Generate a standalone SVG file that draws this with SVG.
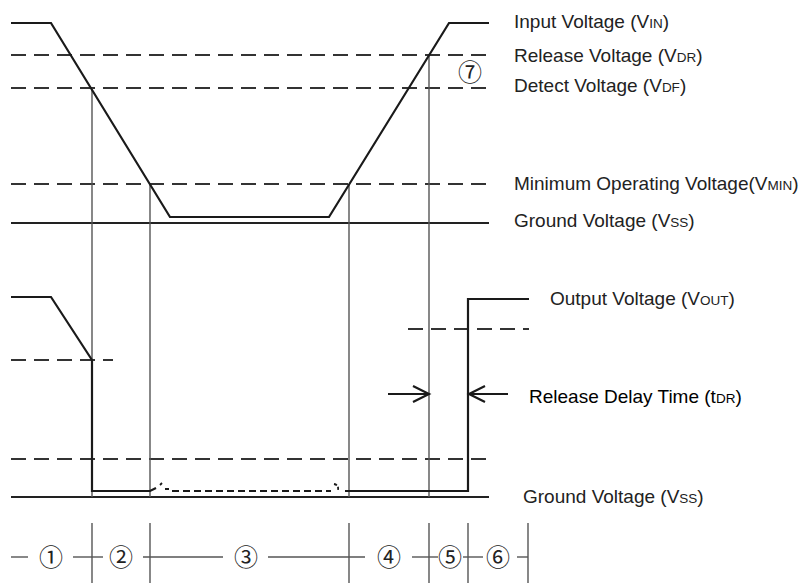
<svg xmlns="http://www.w3.org/2000/svg" width="805" height="583" viewBox="0 0 805 583">
<style>
.wave{fill:none;stroke:#1a1a1a;stroke-width:2.2;stroke-linejoin:miter}
.dash{fill:none;stroke:#333;stroke-width:2;stroke-dasharray:15 8}
.vl{fill:none;stroke:#555;stroke-width:1.4}
.gnd{fill:none;stroke:#222;stroke-width:2}
.lbl{font-family:"Liberation Sans",Arial,sans-serif;font-size:19px;fill:#222}
.sub{font-size:13.5px}
.num{font-family:"Noto Sans CJK JP","DejaVu Sans",sans-serif;font-size:24px;fill:#222;text-anchor:middle}
</style>
<rect width="805" height="583" fill="#fff"/>
<g id="levels-top">
<line class="dash" x1="11" y1="55" x2="489" y2="55"/>
<line class="dash" x1="11" y1="88" x2="489" y2="88"/>
<line class="dash" x1="11" y1="184" x2="489" y2="184"/>
<line class="gnd" x1="11" y1="223" x2="489" y2="223"/>
</g>
<g id="levels-bottom">
<line class="dash" x1="11" y1="360" x2="113" y2="360"/>
<line class="dash" x1="408" y1="329" x2="529" y2="329"/>
<line class="dash" x1="11" y1="459" x2="489" y2="459"/>
<line class="gnd" x1="11" y1="497" x2="489" y2="497"/>
</g>
<g id="verticals">
<line class="vl" x1="92" y1="88" x2="92" y2="497"/>
<line class="vl" x1="150" y1="184" x2="150" y2="497"/>
<line class="vl" x1="349" y1="184" x2="349" y2="497"/>
<line class="vl" x1="429" y1="55" x2="429" y2="497"/>
</g>
<g id="input-wave">
<polyline class="wave" points="11,23 51,23 170,217 329,217 449,23 489,23"/>
</g>
<g id="output-wave">
<polyline class="wave" points="11,297 51,297 92,360 92,491 150,491 156,488"/>
<path d="M160,485 l2,-2 M165,489 l4,0" stroke="#1a1a1a" stroke-width="1.8" fill="none"/>
<line x1="172" y1="491" x2="331" y2="491" stroke="#1a1a1a" stroke-width="1.8" stroke-dasharray="7 4"/>
<path d="M334,484 q5,1 4,6" stroke="#1a1a1a" stroke-width="1.8" fill="none" stroke-dasharray="3 2"/>
<polyline class="wave" points="345,491 468,491 468,299 529,299"/>
</g>
<g id="delay-arrows">
<line class="wave" x1="388" y1="394" x2="429" y2="394"/>
<polyline class="wave" points="413,386 429,394 413,402"/>
<line class="wave" x1="468" y1="394" x2="508" y2="394"/>
<polyline class="wave" points="485,386 469,394 485,402"/>
</g>
<g id="segments">
<line class="vl" x1="92" y1="523" x2="92" y2="583"/>
<line class="vl" x1="150" y1="523" x2="150" y2="583"/>
<line class="vl" x1="349" y1="523" x2="349" y2="583"/>
<line class="vl" x1="429" y1="523" x2="429" y2="583"/>
<line class="vl" x1="468" y1="523" x2="468" y2="583"/>
<line class="vl" x1="528" y1="523" x2="528" y2="583"/>
<line class="vl" x1="11" y1="557" x2="28" y2="557"/>
<line class="vl" x1="73" y1="557" x2="103" y2="557"/>
<line class="vl" x1="143" y1="557" x2="223" y2="557"/>
<line class="vl" x1="268" y1="557" x2="365" y2="557"/>
<line class="vl" x1="412" y1="557" x2="438" y2="557"/>
<line class="vl" x1="463" y1="557" x2="483" y2="557"/>
<line class="vl" x1="517" y1="557" x2="528" y2="557"/>
<text class="num" x="51" y="565.5">①</text>
<text class="num" x="121" y="565.5">②</text>
<text class="num" x="246" y="565.5">③</text>
<text class="num" x="389" y="565.5">④</text>
<text class="num" x="450" y="565.5">⑤</text>
<text class="num" x="498" y="565.5">⑥</text>
<text class="num" x="470" y="80.5">⑦</text>
</g>
<g id="labels">
<text class="lbl" x="514" y="28">Input Voltage (V<tspan class="sub">IN</tspan>)</text>
<text class="lbl" x="514" y="62">Release Voltage (V<tspan class="sub">DR</tspan>)</text>
<text class="lbl" x="514" y="92">Detect Voltage (V<tspan class="sub">DF</tspan>)</text>
<text class="lbl" x="514" y="190">Minimum Operating Voltage(V<tspan class="sub">MIN</tspan>)</text>
<text class="lbl" x="514" y="227">Ground Voltage (V<tspan class="sub">SS</tspan>)</text>
<text class="lbl" x="550" y="305">Output Voltage (V<tspan class="sub">OUT</tspan>)</text>
<text class="lbl" x="529" y="403" style="fill:#000">Release Delay Time (t<tspan class="sub">DR</tspan>)</text>
<text class="lbl" x="523" y="503">Ground Voltage (V<tspan class="sub">SS</tspan>)</text>
</g>
</svg>
